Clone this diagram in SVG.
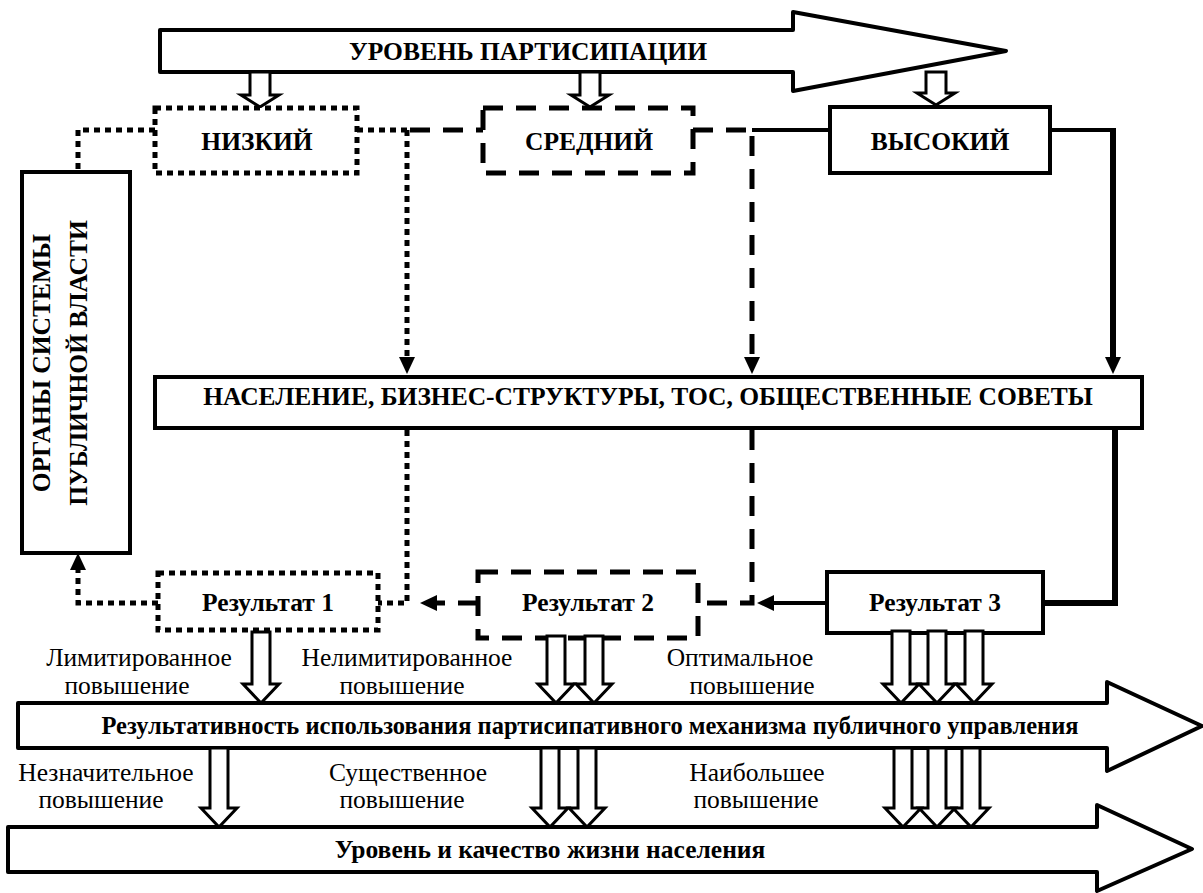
<svg xmlns="http://www.w3.org/2000/svg" width="1203" height="893" viewBox="0 0 1203 893">
<style>
.bg{fill:#fff}
.box{fill:#fff;stroke:#000;stroke-width:4}
.dot{fill:#fff;stroke:#000;stroke-width:5;stroke-dasharray:6 5}
.dash{fill:#fff;stroke:#000;stroke-width:5;stroke-dasharray:20 13}
.big{fill:#fff;stroke:#000;stroke-width:4;stroke-linejoin:round}
.hol{fill:#fff;stroke:#000;stroke-width:3;stroke-linejoin:miter}
.ldot{fill:none;stroke:#000;stroke-width:5;stroke-dasharray:6 5}
.ldash{fill:none;stroke:#000;stroke-width:5;stroke-dasharray:20 13}
.lsol{fill:none;stroke:#000;stroke-width:4}
.lthk{fill:none;stroke:#000;stroke-width:6}
text{font-family:'Liberation Serif','DejaVu Serif','Times New Roman',serif;text-anchor:middle;fill:#000;font-size:25.5px}
.b{font-weight:bold}
</style>
<defs>
<marker id="ah" markerUnits="userSpaceOnUse" markerWidth="18" markerHeight="18" refX="0" refY="8" orient="auto" viewBox="0 0 18 16">
<path d="M0,0 L17,8 L0,16 Z" fill="#000"/>
</marker>
</defs>
<rect class="bg" x="0" y="0" width="1203" height="893"/>

<g id="arrow-level">
<path class="big" d="M160,30 L793,30 L793,12 L1006,51 L793,91 L793,72 L160,72 Z"/>
<text class="b" x="528" y="60">УРОВЕНЬ ПАРТИСИПАЦИИ</text>
<path class="hol" d="M250,72 L270,72 L270,95 L279,95 L260,107 L241,95 L250,95 Z"/>
<path class="hol" d="M580,72 L600,72 L600,95 L609,95 L590,107 L571,95 L580,95 Z"/>
<path class="hol" d="M926,72 L946,72 L946,93 L955,93 L936,105 L917,93 L926,93 Z"/>
</g>

<g id="connectors">
<path class="ldot" d="M155,130 L78,130 L78,172"/>
<path class="ldot" d="M357,130 L407,130"/>
<path class="ldot" d="M407,130 L407,357" marker-end="url(#ah)"/>
<path class="ldash" d="M410,130 L483,130"/>
<path class="ldash" d="M693,130 L752,130"/>
<path class="ldash" d="M752,136 L752,357" marker-end="url(#ah)"/>
<path class="lsol" d="M752,130 L830,130"/>
<path class="lsol" d="M1050,130 L1113,130"/>
<path class="lthk" d="M1113,128 L1113,357" marker-end="url(#ah)"/>
<path class="ldot" d="M407,430 L407,603 L378,603"/>
<path class="ldash" d="M752,430 L752,603 L698,603"/>
<path class="lthk" d="M1043,603 L1115,603 L1115,428"/>
<path class="lsol" d="M827,603 L774,603" marker-end="url(#ah)"/>
<path class="ldash" d="M478,603 L437,603" marker-end="url(#ah)"/>
<path class="ldot" d="M158,603 L78,603 L78,570" marker-end="url(#ah)"/>
</g>

<g id="node-low">
<rect class="dot" x="155" y="108" width="202" height="65"/>
<text class="b" x="257" y="150">НИЗКИЙ</text>
</g>
<g id="node-mid">
<rect class="dash" x="483" y="108" width="210" height="65"/>
<text class="b" x="589" y="150">СРЕДНИЙ</text>
</g>
<g id="node-high">
<rect class="box" x="830" y="107" width="220" height="66"/>
<text class="b" x="940" y="150">ВЫСОКИЙ</text>
</g>

<g id="node-organs">
<rect class="box" x="22" y="172" width="108" height="381"/>
<text class="b" transform="translate(50,363) rotate(-90)">ОРГАНЫ СИСТЕМЫ</text>
<text class="b" transform="translate(87,363) rotate(-90)">ПУБЛИЧНОЙ ВЛАСТИ</text>
</g>

<g id="node-population">
<rect class="box" x="155" y="377" width="987" height="51"/>
<text class="b" x="648" y="405">НАСЕЛЕНИЕ, БИЗНЕС-СТРУКТУРЫ, ТОС, ОБЩЕСТВЕННЫЕ СОВЕТЫ</text>
</g>

<g id="node-res1">
<rect class="dot" x="158" y="573" width="220" height="57"/>
<text class="b" x="268" y="611">Результат 1</text>
</g>
<g id="node-res2">
<rect class="dash" x="478" y="572" width="220" height="66"/>
<text class="b" x="588" y="611">Результат 2</text>
</g>
<g id="node-res3">
<rect class="box" x="827" y="572" width="216" height="61"/>
<text class="b" x="935" y="611">Результат 3</text>
</g>

<g id="arrows-res">
<path class="hol" d="M252,632 L270,632 L270,684 L279,684 L261,703 L243,684 L252,684 Z"/>
<path class="hol" d="M547,636 L565,636 L565,684 L574,684 L556,703 L538,684 L547,684 Z"/>
<path class="hol" d="M585,636 L603,636 L603,684 L612,684 L594,703 L576,684 L585,684 Z"/>
<path class="hol" d="M892,631 L910,631 L910,684 L919,684 L901,703 L883,684 L892,684 Z"/>
<path class="hol" d="M928,631 L946,631 L946,684 L955,684 L937,703 L919,684 L928,684 Z"/>
<path class="hol" d="M965,631 L983,631 L983,684 L992,684 L974,703 L956,684 L965,684 Z"/>
</g>

<g id="labels-top">
<text x="139" y="666">Лимитированное</text>
<text x="127" y="694">повышение</text>
<text x="407" y="666">Нелимитированное</text>
<text x="402" y="694">повышение</text>
<text x="740" y="666">Оптимальное</text>
<text x="752" y="694">повышение</text>
</g>

<g id="arrow-effect">
<path class="big" d="M18,703 L1107,703 L1107,682 L1202,726 L1107,771 L1107,748 L18,748 Z"/>
<text class="b" x="590" y="734" style="font-size:24.5px">Результативность использования партисипативного механизма публичного управления</text>
</g>

<g id="arrows-effect">
<path class="hol" d="M210,748 L228,748 L228,808 L237,808 L219,827 L201,808 L210,808 Z"/>
<path class="hol" d="M541,748 L559,748 L559,808 L568,808 L550,827 L532,808 L541,808 Z"/>
<path class="hol" d="M578,748 L596,748 L596,808 L605,808 L587,827 L569,808 L578,808 Z"/>
<path class="hol" d="M894,748 L912,748 L912,808 L921,808 L903,827 L885,808 L894,808 Z"/>
<path class="hol" d="M928,748 L946,748 L946,808 L955,808 L937,827 L919,808 L928,808 Z"/>
<path class="hol" d="M962,748 L980,748 L980,808 L989,808 L971,827 L953,808 L962,808 Z"/>
</g>

<g id="labels-bottom">
<text x="106" y="781">Незначительное</text>
<text x="101" y="808">повышение</text>
<text x="408" y="781">Существенное</text>
<text x="402" y="808">повышение</text>
<text x="757" y="781">Наибольшее</text>
<text x="756" y="808">повышение</text>
</g>

<g id="arrow-life">
<path class="big" d="M8,827 L1097,827 L1097,805 L1192,849 L1097,891 L1097,872 L8,872 Z"/>
<text class="b" x="550" y="858" style="font-size:25.5px">Уровень и качество жизни населения</text>
</g>
</svg>
